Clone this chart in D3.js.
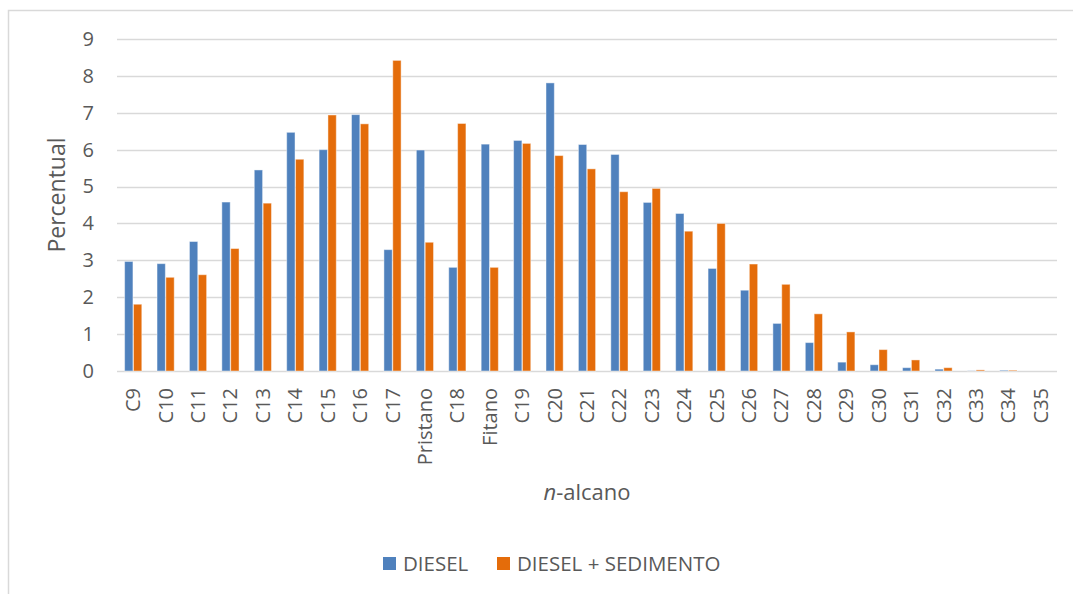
<!DOCTYPE html>
<html>
<head>
<meta charset="utf-8">
<script src="https://cdn.jsdelivr.net/npm/d3@7"></script>
<style>
  html, body { margin: 0; padding: 0; background: #fff; }
  svg { display: block; font-family: "Open Sans", sans-serif; }
</style>
</head>
<body>
<svg id="chart" width="1073" height="594"></svg>
<script>
// n-alkane distribution, percent of total
const categories = ["C9","C10","C11","C12","C13","C14","C15","C16","C17","Pristano","C18","Fitano",
  "C19","C20","C21","C22","C23","C24","C25","C26","C27","C28","C29","C30","C31","C32","C33","C34","C35"];
const diesel = [2.97,2.91,3.51,4.58,5.45,6.47,6.00,6.95,3.29,5.99,2.81,6.15,
  6.25,7.81,6.14,5.87,4.57,4.27,2.78,2.19,1.29,0.77,0.24,0.17,0.09,0.05,0.005,0.02,0];
const dieselSed = [1.81,2.54,2.61,3.32,4.55,5.74,6.94,6.70,8.42,3.49,6.71,2.81,
  6.17,5.84,5.48,4.86,4.95,3.79,4.00,2.90,2.35,1.55,1.06,0.58,0.30,0.09,0.03,0.02,0];
const seriesNames = ["DIESEL", "DIESEL + SEDIMENTO"];
const yTicks = [0,1,2,3,4,5,6,7,8,9];

const colors = { "DIESEL": "#4F81BD", "DIESEL + SEDIMENTO": "#E46C0A" };
const textColor = "#595959";
const gridColor = "#D9D9D9";

const svg = d3.select("#chart");
const plot = { left: 117, right: 1057, top: 39, bottom: 371 };

// chart frame (only the left and top edges fall inside the view)
svg.append("rect")
  .attr("x", 8.5).attr("y", 10.5)
  .attr("width", 1200).attr("height", 700)
  .attr("fill", "none").attr("stroke", gridColor).attr("stroke-width", 1.5);

const y = d3.scaleLinear().domain([0, 9]).range([plot.bottom, plot.top]);
const x = d3.scaleBand().domain(categories).range([plot.left, plot.right])
  .paddingInner(0.47).paddingOuter(0.235);
const x1 = d3.scaleBand().domain(seriesNames).range([0, x.bandwidth()]).paddingInner(0.06);

// horizontal gridlines
svg.append("g").selectAll("line").data(yTicks).join("line")
  .attr("x1", plot.left).attr("x2", plot.right)
  .attr("y1", d => Math.round(y(d)) + 0.5).attr("y2", d => Math.round(y(d)) + 0.5)
  .attr("stroke", gridColor).attr("stroke-width", 1.5);

// y axis labels
const yAxis = d3.axisLeft(y).tickValues(yTicks).tickSize(0).tickPadding(0).tickFormat(d3.format("d"));
const gy = svg.append("g").attr("transform", "translate(94,0)").call(yAxis);
gy.select(".domain").remove();
gy.selectAll("text").attr("fill", textColor).style("font-size", "20px")
  .style("font-family", "'Open Sans', sans-serif");

// bars
const rows = categories.map((c, i) => ({ cat: c, values: [diesel[i], dieselSed[i]] }));
const groups = svg.append("g").selectAll("g").data(rows).join("g")
  .attr("transform", d => `translate(${x(d.cat)},0)`);
groups.selectAll("rect")
  .data(d => d.values.map((v, j) => ({ name: seriesNames[j], value: v })))
  .join("rect")
  .attr("x", d => x1(d.name))
  .attr("width", x1.bandwidth())
  .attr("y", d => y(d.value))
  .attr("height", d => plot.bottom - y(d.value))
  .attr("fill", d => colors[d.name])
  .attr("stroke", "rgba(255,255,255,0.45)")
  .attr("stroke-width", 1);

// category axis
const xAxis = d3.axisBottom(x).tickSize(0).tickPadding(0);
const gx = svg.append("g").attr("transform", `translate(0,${plot.bottom})`).call(xAxis);
gx.select(".domain").remove();
gx.selectAll("text")
  .attr("fill", textColor)
  .style("font-size", "20px")
  .style("font-family", "'Open Sans', sans-serif")
  .attr("text-anchor", "end")
  .attr("transform", "translate(0,17) rotate(-90)")
  .attr("x", 0).attr("y", 0).attr("dy", "0.35em");

// axis titles
svg.append("text")
  .attr("transform", "translate(57,195) rotate(-90)")
  .attr("text-anchor", "middle").attr("dy", "0.35em")
  .attr("fill", textColor).style("font-size", "23px")
  .text("Percentual");

const xt = svg.append("text")
  .attr("x", 587).attr("y", 500)
  .attr("text-anchor", "middle")
  .attr("fill", textColor).style("font-size", "22px");
xt.append("tspan").attr("font-style", "italic").text("n");
xt.append("tspan").text("-alcano");

// legend
const legendX = [383, 497];
const lg = svg.append("g").selectAll("g").data(seriesNames).join("g")
  .attr("transform", (d, i) => `translate(${legendX[i]},557)`);
lg.append("rect").attr("width", 13).attr("height", 13).attr("fill", d => colors[d]);
lg.append("text").attr("x", 20).attr("y", 6.5).attr("dy", "0.36em")
  .attr("fill", textColor).style("font-size", "20.5px")
  .text(d => d);
</script>
</body>
</html>
